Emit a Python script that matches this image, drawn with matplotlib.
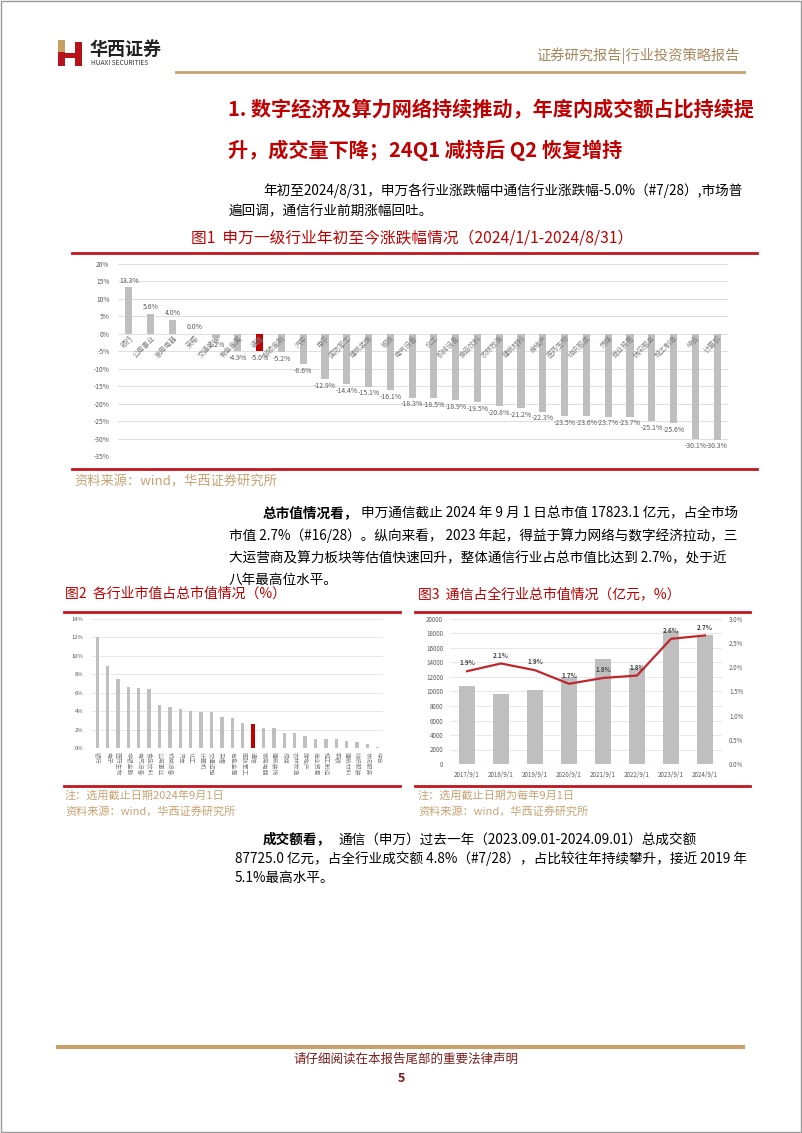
import matplotlib
matplotlib.use('Agg')
from matplotlib import pyplot as plt
from matplotlib.patches import Rectangle
import numpy as np

plt.rcParams['font.family'] = ['Noto Sans CJK SC', 'DejaVu Sans']

W, H = 802, 1133

# 图1 申万一级行业年初至今涨跌幅
ind1 = ['银行', '公用事业', '家用电器', '采掘', '交通运输', '有色金属', '通信', '非银金融',
        '汽车', '电子', '国防军工', '建筑装饰', '钢铁', '电气设备', '化工', '机械设备',
        '食品饮料', '农林牧渔', '建筑材料', '房地产', '医药生物', '纺织服装', '传媒',
        '商业贸易', '休闲服务', '轻工制造', '综合', '计算机']
chg1 = [13.3, 5.6, 4.0, 0.0, -1.2, -4.9, -5.0, -5.2, -8.6, -12.9, -14.4, -15.1, -16.1,
        -18.3, -18.5, -18.9, -19.5, -20.8, -21.2, -22.3, -23.5, -23.6, -23.7, -23.7,
        -25.1, -25.6, -30.1, -30.3]

# 图2 各行业市值占总市值
ind2 = ['银行', '电子', '医药生物', '非银金融', '电气设备', '食品饮料', '公用事业', '机械设备',
        '汽车', '化工', '计算机', '交通运输', '采掘', '有色金属', '国防军工', '通信',
        '家用电器', '建筑装饰', '传媒', '农林牧渔', '房地产', '商业贸易', '轻工制造', '钢铁',
        '建筑材料', '纺织服装', '休闲服务', '综合']
share2 = [12.0, 8.95, 7.5, 6.65, 6.55, 6.35, 4.7, 4.45, 4.2, 4.05, 3.95, 3.9, 3.4, 3.3,
          2.75, 2.65, 2.2, 2.15, 1.6, 1.6, 1.35, 1.0, 1.0, 0.95, 0.75, 0.7, 0.45, 0.1]

# 图3 通信总市值(亿元)及占比(%)
dates3 = ['2017/9/1', '2018/9/1', '2019/9/1', '2020/9/1', '2021/9/1', '2022/9/1',
          '2023/9/1', '2024/9/1']
mv3 = [10700, 9700, 10200, 12000, 14500, 13200, 18300, 17823.1]
pct3 = [1.92, 2.08, 1.94, 1.66, 1.78, 1.83, 2.59, 2.66]
pct3_lbl = ['1.9%', '2.1%', '1.9%', '1.7%', '1.8%', '1.8%', '2.6%', '2.7%']

RED = '#C00000'
GOLD = '#C6A26C'
SRC = '#C7A273'
GRAY = '#BFBFBF'
TXT = '#595959'
BODY = '#000000'


def fx(x):
    return x / W


def fy(y):
    return 1 - y / H


def axes_px(fig, x0, y0, x1, y1):
    return fig.add_axes([fx(x0), fy(y1), (x1 - x0) / W, (y1 - y0) / H])


def hline(fig, x0, x1, y, color, lw):
    fig.add_artist(plt.Line2D([fx(x0), fx(x1)], [fy(y), fy(y)], color=color, lw=lw,
                              transform=fig.transFigure))


def txt(fig, x, y, s, **kw):
    kw.setdefault('va', 'center')
    fig.text(fx(x), fy(y), s, **kw)


fig = plt.figure(figsize=(W / 100, H / 100), dpi=100)
fig.patch.set_facecolor('white')

# page frame
fig.add_artist(Rectangle((0.001, 0.001), 0.998, 0.998, transform=fig.transFigure,
                         fill=False, ec='#9A9A9A', lw=1))

# header logo
fig.add_artist(Rectangle((fx(58), fy(66)), 7 / W, 26 / H, transform=fig.transFigure,
                         fc='#B5121B', ec='none'))
fig.add_artist(Rectangle((fx(58), fy(52)), 7 / W, 12 / H, transform=fig.transFigure,
                         fc='#C9A063', ec='none'))
fig.add_artist(Rectangle((fx(65), fy(58)), 10 / W, 5 / H, transform=fig.transFigure,
                         fc='#B5121B', ec='none'))
fig.add_artist(Rectangle((fx(75), fy(66)), 7 / W, 24 / H, transform=fig.transFigure,
                         fc='#B5121B', ec='none'))
txt(fig, 90, 49, '华西证券', fontsize=13, fontweight='bold', color='#222222')
txt(fig, 91, 63, 'HUAXI SECURITIES', fontsize=4.8, color='#333333')
txt(fig, 740, 56, '证券研究报告|行业投资策略报告', fontsize=10.3, color='#A8885E', ha='right')
hline(fig, 176, 744, 72, GOLD, 2)

# title
txt(fig, 228, 110, '1. 数字经济及算力网络持续推动，年度内成交额占比持续提', fontsize=14.5,
    fontweight='bold', color=RED)
txt(fig, 228, 150, '升，成交量下降；24Q1 减持后 Q2 恢复增持', fontsize=14.5,
    fontweight='bold', color=RED)

# paragraph 1
txt(fig, 263, 191, '年初至2024/8/31，申万各行业涨跌幅中通信行业涨跌幅-5.0%（#7/28）,市场普',
    fontsize=9.8, color=BODY)
txt(fig, 229, 211, '遍回调，通信行业前期涨幅回吐。', fontsize=9.8, color=BODY)

# figure 1
txt(fig, 412, 238, '图1  申万一级行业年初至今涨跌幅情况（2024/1/1-2024/8/31）', fontsize=11.3,
    color=RED, ha='center')
hline(fig, 72, 757, 253, '#C0161E', 2)
hline(fig, 72, 757, 469, '#C0161E', 2)
txt(fig, 74, 482, '资料来源：wind，华西证券研究所', fontsize=9.5, color=SRC)

ax1 = axes_px(fig, 118, 264, 728, 456)
x1 = np.arange(len(chg1))
cols1 = [RED if n == '通信' else GRAY for n in ind1]
ax1.bar(x1, chg1, width=0.33, color=cols1, zorder=3)
ax1.set_xlim(-0.5, len(chg1) - 0.5)
ax1.set_ylim(-35, 20)
ax1.set_yticks(np.arange(-35, 21, 5))
ax1.set_yticklabels([f'{v}%' for v in range(-35, 21, 5)])
ax1.yaxis.grid(True, color='#D9D9D9', lw=0.6, zorder=0)
ax1.set_xticks([])
ax1.tick_params(axis='y', length=0, labelsize=4.8, labelcolor=TXT, pad=6)
for s in ax1.spines.values():
    s.set_visible(False)
for i, v in enumerate(chg1):
    if v >= 0:
        ax1.text(i, v + 0.8, f'{v:.1f}%', ha='center', va='bottom', fontsize=5, color=TXT)
    else:
        ax1.text(i, v - 0.8, f'{v:.1f}%', ha='center', va='top', fontsize=5, color=TXT)
    ax1.text(i + 0.15, -0.8, ind1[i], rotation=45, rotation_mode='anchor', ha='right',
             va='center', fontsize=5, color='#7F7F7F')

# paragraph 2
txt(fig, 263, 513, '总市值情况看，', fontsize=9.8, fontweight='bold', color=BODY)
txt(fig, 361, 513, '申万通信截止 2024 年 9 月 1 日总市值 17823.1 亿元，占全市场',
    fontsize=9.8, color=BODY)
txt(fig, 229, 536, '市值 2.7%（#16/28）。纵向来看， 2023 年起，得益于算力网络与数字经济拉动，三',
    fontsize=9.8, color=BODY)
txt(fig, 229, 558, '大运营商及算力板块等估值快速回升，整体通信行业占总市值比达到 2.7%，处于近',
    fontsize=9.8, color=BODY)
txt(fig, 229, 580, '八年最高位水平。', fontsize=9.8, color=BODY)

# figure 2 / 3 titles
txt(fig, 65, 594, '图2  各行业市值占总市值情况（%）', fontsize=10, color=RED)
txt(fig, 418, 594, '图3  通信占全行业总市值情况（亿元，%）', fontsize=10, color=RED)
hline(fig, 64, 400, 612, '#C0161E', 2)
hline(fig, 415, 750, 612, '#C0161E', 2)
hline(fig, 64, 400, 786, '#C0161E', 2)
hline(fig, 415, 750, 786, '#C0161E', 2)
txt(fig, 65, 795, '注：选用截止日期2024年9月1日', fontsize=8, color=SRC)
txt(fig, 65, 811, '资料来源：wind，华西证券研究所', fontsize=8, color=SRC)
txt(fig, 418, 795, '注：选用截止日期为每年9月1日', fontsize=8, color=SRC)
txt(fig, 418, 811, '资料来源：wind，华西证券研究所', fontsize=8, color=SRC)

ax2 = axes_px(fig, 92, 619, 383, 748)
x2 = np.arange(len(share2))
cols2 = [RED if n == '通信' else GRAY for n in ind2]
ax2.bar(x2, share2, width=0.32, color=cols2, zorder=3)
ax2.set_xlim(-0.5, len(share2) - 0.5)
ax2.set_ylim(0, 14)
ax2.set_yticks(np.arange(0, 15, 2))
ax2.set_yticklabels([f'{v}%' for v in range(0, 15, 2)])
ax2.yaxis.grid(True, color='#E3E3E3', lw=0.6, zorder=0)
ax2.set_xticks([])
ax2.tick_params(axis='y', length=0, labelsize=4.2, labelcolor=TXT, pad=6)
for s in ax2.spines.values():
    s.set_visible(False)
for i, n in enumerate(ind2):
    ax2.text(i, -0.45, n, rotation=-90, rotation_mode='anchor', ha='left', va='center',
             fontsize=4.2, color='#7F7F7F')

ax3 = axes_px(fig, 450, 619, 722, 764)
x3 = np.arange(len(mv3))
ax3.bar(x3, mv3, width=0.47, color=GRAY, zorder=3)
ax3.set_xlim(-0.5, len(mv3) - 0.5)
ax3.set_ylim(0, 20000)
ax3.set_yticks(np.arange(0, 20001, 2000))
ax3.yaxis.grid(True, color='#E3E3E3', lw=0.6, zorder=0)
ax3.set_xticks(x3)
ax3.set_xticklabels(dates3)
ax3.tick_params(axis='both', length=0, labelsize=4.5, labelcolor=TXT, pad=5)
for s in ax3.spines.values():
    s.set_visible(False)
ax3.axhline(0, color='#D0D0D0', lw=0.8, zorder=4)
ax3b = ax3.twinx()
ax3b.plot(x3, pct3, color='#C0272D', lw=1.6, zorder=5)
ax3b.set_ylim(0, 3.0)
ax3b.set_yticks(np.arange(0, 3.01, 0.5))
ax3b.set_yticklabels([f'{v:.1f}%' for v in np.arange(0, 3.01, 0.5)])
ax3b.tick_params(axis='y', length=0, labelsize=4.5, labelcolor=TXT, pad=5)
for s in ax3b.spines.values():
    s.set_visible(False)
for i, (v, l) in enumerate(zip(pct3, pct3_lbl)):
    ax3b.text(i, v + 0.1, l, ha='center', va='bottom', fontsize=4.6, color='#404040',
              fontweight='bold')

# paragraph 3
txt(fig, 263, 840, '成交额看，', fontsize=9.8, fontweight='bold', color=BODY)
txt(fig, 338, 840, '通信（申万）过去一年（2023.09.01-2024.09.01）总成交额', fontsize=9.8,
    color=BODY)
txt(fig, 235, 859, '87725.0 亿元，占全行业成交额 4.8%（#7/28），占比较往年持续攀升，接近 2019 年',
    fontsize=9.8, color=BODY)
txt(fig, 235, 878, '5.1%最高水平。', fontsize=9.8, color=BODY)

# footer
hline(fig, 58, 743, 1047, GOLD, 3)
txt(fig, 406, 1059, '请仔细阅读在本报告尾部的重要法律声明', fontsize=9, color='#7B1B1B', ha='center')
txt(fig, 401, 1079, '5', fontsize=9, color='#7B1B1B', ha='center', fontweight='bold',
    style='italic')

fig.savefig('out.png', dpi=100)
